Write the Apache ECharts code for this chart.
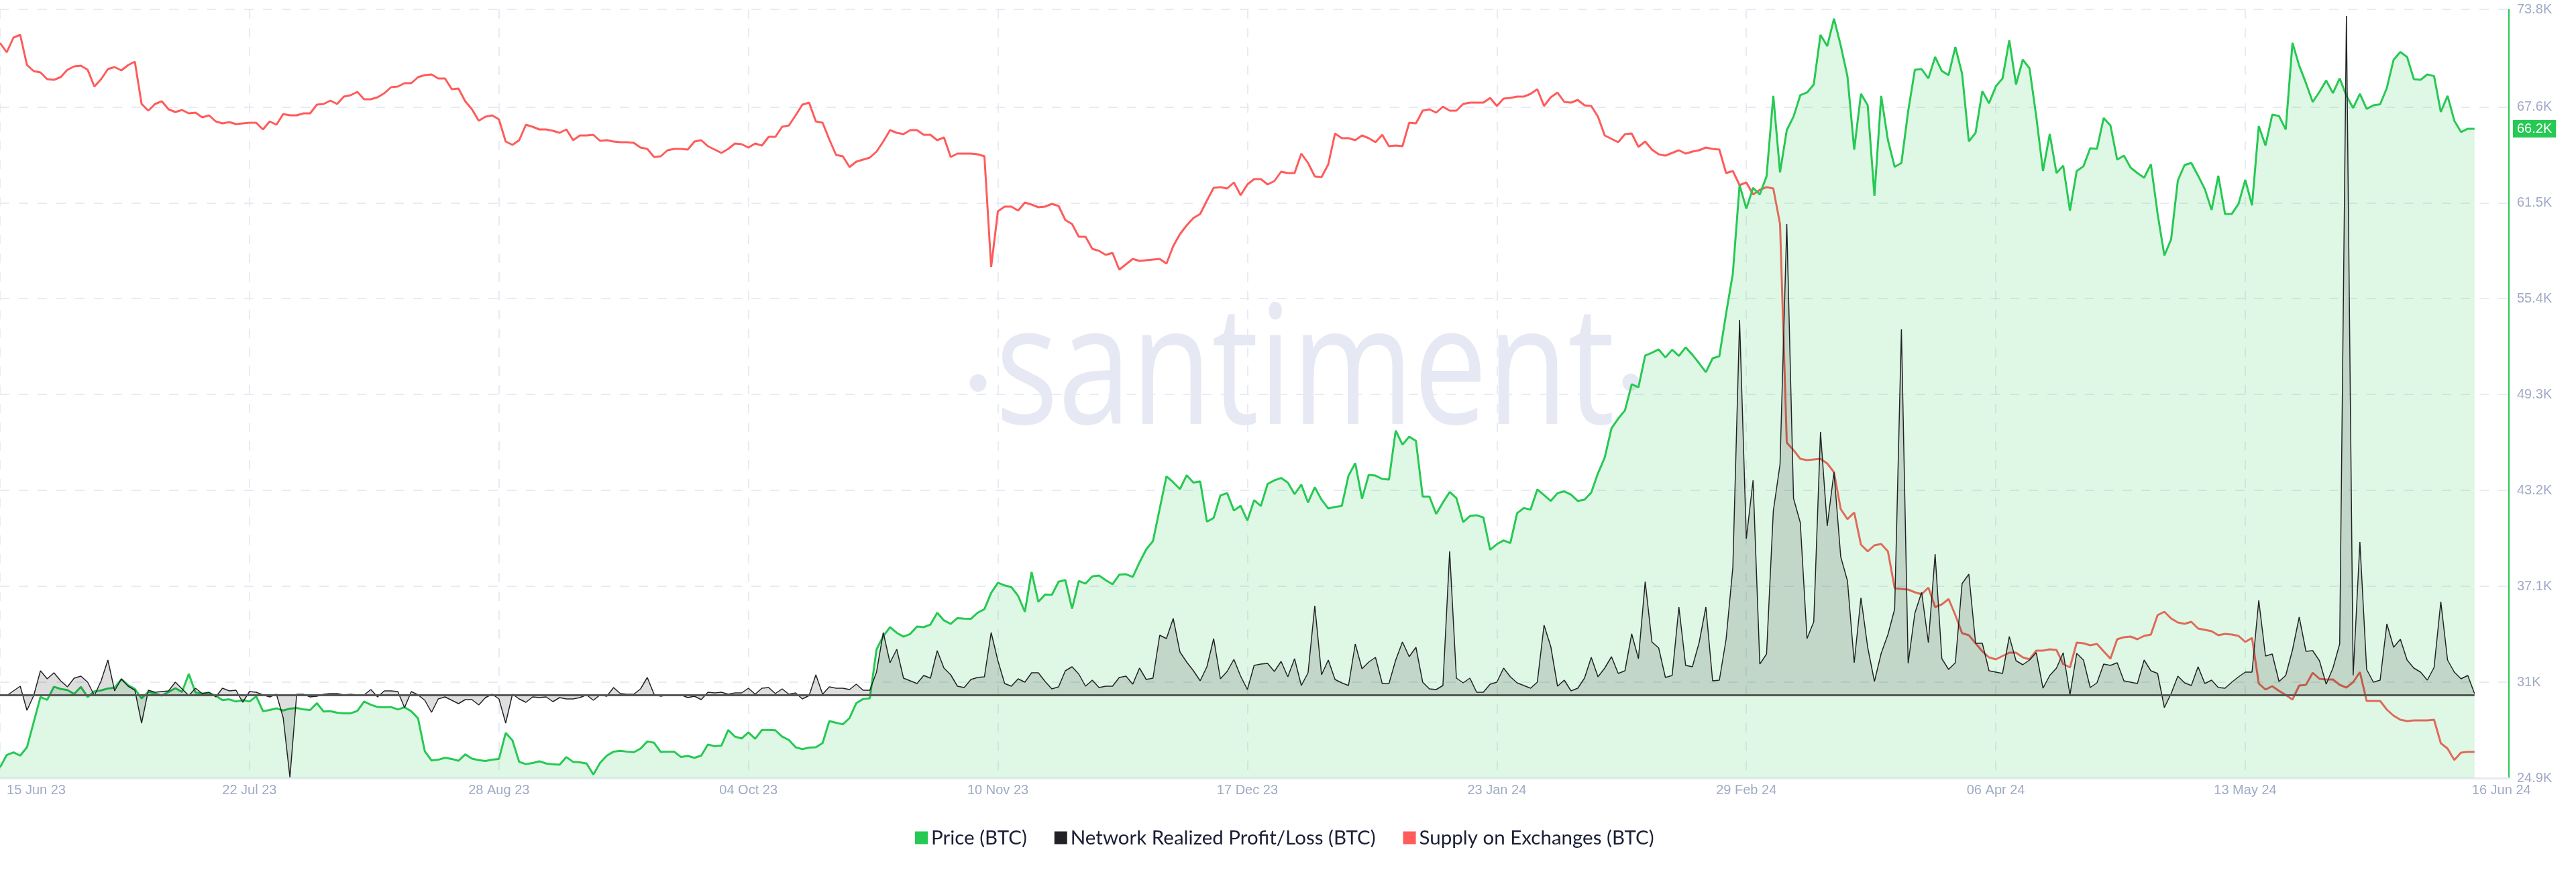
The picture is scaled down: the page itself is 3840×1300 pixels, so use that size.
<!DOCTYPE html>
<html>
<head>
<meta charset="utf-8">
<style>html,body{margin:0;padding:0;background:#fff}#c{width:3840px;height:1300px}</style>
<script src="https://cdn.jsdelivr.net/npm/echarts@6/dist/echarts.min.js"></script>
</head>
<body>
<div id="c"></div>
<script>
const startDate = '2023-06-15';
const endDate = '2024-06-16';
const xTickDates = ['2023-06-15','2023-07-22','2023-08-28','2023-10-04','2023-11-10','2023-12-17','2024-01-23','2024-02-29','2024-04-06','2024-05-13'];
const xTickLabels = ['15 Jun 23','22 Jul 23','28 Aug 23','04 Oct 23','10 Nov 23','17 Dec 23','23 Jan 24','29 Feb 24','06 Apr 24','13 May 24'];
const lastTickLabel = '16 Jun 24';
const priceTicks = [24.9,31,37.1,43.2,49.3,55.4,61.5,67.6,73.8];
const lastPrice = 66.2;
const seriesNames = ['Price (BTC)','Network Realized Profit/Loss (BTC)','Supply on Exchanges (BTC)'];

// Price in thousands of USD, one value per day
const price = [
25.58,26.37,26.54,26.33,26.86,28.46,30.06,29.88,30.71,30.57,30.50,30.25,30.70,30.06,30.42,30.48,30.60,30.65,31.19,30.81,
30.57,29.97,30.38,30.28,30.15,30.38,30.62,30.38,31.52,30.34,30.28,30.31,30.14,29.86,29.91,29.77,29.86,29.77,30.10,29.16,
29.23,29.34,29.20,29.32,29.36,29.27,29.23,29.67,29.13,29.16,29.06,29.02,29.02,29.17,29.77,29.57,29.42,29.40,29.42,29.27,
29.40,29.15,28.70,26.61,26.02,26.07,26.19,26.12,26.00,26.41,26.14,26.04,25.99,26.07,26.12,27.78,27.30,25.93,25.79,25.86,
25.97,25.83,25.77,25.75,26.24,25.93,25.90,25.83,25.12,25.87,26.33,26.58,26.64,26.58,26.54,26.78,27.23,27.15,26.56,26.58,
26.58,26.24,26.31,26.19,26.33,27.04,26.93,26.97,27.96,27.54,27.42,27.81,27.40,27.96,27.96,27.94,27.54,27.32,26.86,26.74,
26.84,26.86,27.13,28.53,28.42,28.32,28.72,29.67,29.93,29.98,
33.08,33.93,34.50,34.14,33.90,34.07,34.54,34.50,34.67,35.42,34.93,34.71,35.08,35.04,35.03,35.42,35.65,36.68,37.32,37.16,
37.05,36.49,35.47,38.01,36.11,36.58,36.56,37.39,37.50,35.68,37.44,37.27,37.73,37.79,37.49,37.23,37.84,37.87,37.70,38.62,
39.45,39.98,42.04,44.10,43.72,43.28,44.17,43.70,43.77,41.21,41.45,42.88,43.03,41.92,42.22,
41.28,42.58,42.21,43.61,43.84,43.99,43.70,42.96,43.57,42.43,43.40,42.61,42.05,42.15,42.21,44.14,44.93,42.67,44.19,44.14,
43.93,43.89,47.01,46.11,46.62,46.35,42.81,42.81,41.70,42.43,43.10,42.71,41.18,41.57,41.62,41.48,39.42,39.78,40.02,39.85,
41.75,42.08,41.98,43.26,42.90,42.53,43.03,43.14,42.93,42.53,42.61,43.07,44.29,45.29,47.15,
47.77,48.29,49.95,49.76,51.78,51.96,52.17,51.66,52.15,51.76,52.30,51.83,51.29,50.72,51.60,51.74,54.45,57.00,
62.62,61.13,62.45,62.03,63.18,68.30,63.43,66.12,66.98,68.34,68.51,69.02,72.18,71.46,73.21,71.50,69.54,64.88,68.43,67.70,
61.94,68.30,65.48,63.78,64.03,67.32,69.96,70.00,69.41,70.77,69.88,69.62,71.41,69.71,65.40,65.95,68.60,67.83,68.90,69.41,
71.84,69.02,70.60,70.05,66.98,63.52,65.87,63.39,63.86,61.00,63.52,63.82,64.97,64.93,66.89,66.42,64.24,64.50,63.73,63.39,
63.09,63.95,60.79,58.14,59.17,62.92,63.90,64.03,63.22,62.37,61.04,63.22,60.79,60.79,61.43,62.96,61.34,66.38,65.14,67.10,
67.02,66.16,71.67,70.22,69.11,67.91,68.55,69.28,68.47,69.41,68.30,67.53,68.43,67.47,67.70,67.76,68.81,70.60,71.09,70.77,
69.36,69.32,69.66,69.56,67.27,68.30,66.72,66.00,66.21,66.20];

// Network realized profit/loss, relative units (hidden axis)
const realizedPnl = [
0,-1,6,13,-23,-1,36,24,33,21,12,25,28,19,-1,21,52,6,24,13,
7,-42,7,4,5,6,19,9,-1,10,2,4,-3,10,6,7,-11,5,4,0,
-3,1,-34,-123,1,1,-3,-2,1,2,2,0,1,0,0,8,-3,6,6,5,
-19,5,0,-8,-26,-6,-3,-8,-13,-7,-7,-15,-4,1,-6,-42,1,-6,-11,-3,
-4,-3,-10,-4,-6,-6,-4,0,-8,0,-2,11,2,1,1,9,26,1,-2,0,
-1,0,-4,-2,-7,4,3,4,1,3,3,10,1,10,11,2,9,1,3,-6,
-1,30,1,12,10,10,8,16,7,7,
34,93,48,68,25,21,17,29,25,66,40,30,13,11,23,26,27,93,51,17,
13,24,19,33,33,20,9,12,36,42,31,13,22,11,13,13,26,28,16,40,
23,25,89,84,114,64,49,36,21,42,84,24,35,53,28,
8,44,46,47,35,50,27,54,14,33,133,30,52,23,18,14,76,39,49,56,
17,17,52,79,57,71,19,9,8,14,214,25,18,25,4,4,16,19,40,27,
18,14,10,19,104,72,13,22,6,10,25,56,27,40,57,
32,36,91,54,169,79,70,26,29,131,44,42,78,131,21,22,83,190,559,233,
320,46,61,274,344,702,293,257,84,109,392,252,332,206,170,48,145,71,20,62,
90,128,545,47,122,153,78,210,54,38,48,166,180,77,77,36,34,32,87,51,
45,52,63,10,29,40,63,0,62,52,11,18,46,44,48,21,19,17,52,36,
32,-19,2,28,18,14,42,17,22,11,10,19,27,34,34,141,58,61,20,29,
67,116,65,66,51,16,40,76,1012,29,228,38,19,22,106,71,83,52,40,34,
22,41,139,52,34,24,29,2];

// Supply on exchanges, relative units (hidden axis)
const supplyOnExchanges = [
1096,1082,1104,1108,1063,1054,1052,1042,1041,1045,1056,1061,1062,1056,1031,1042,1057,1060,1055,1063,
1068,1005,995,1005,1009,997,993,996,991,992,985,988,979,976,978,975,976,977,977,967,
979,974,990,988,988,991,991,1004,1005,1010,1005,1016,1018,1023,1012,1012,1015,1021,1030,1031,
1036,1036,1045,1048,1049,1043,1043,1027,1028,1009,997,980,986,988,982,949,944,951,974,971,
967,967,965,962,967,951,958,958,959,950,951,949,948,948,947,940,
938,926,927,936,938,938,937,949,951,942,937,932,938,946,945,940,946,943,956,956,
971,973,988,1004,1007,979,977,952,929,927,911,919,922,925,934,949,966,962,960,966,
966,959,959,951,955,926,931,931,931,930,927,762,845,852,852,846,858,855,851,852,
856,853,832,826,807,807,789,786,780,783,758,766,774,771,772,773,774,767,793,811,
824,835,841,861,880,881,879,888,869,885,893,893,885,890,904,902,902,931,917,897,
896,915,961,954,954,951,958,954,948,959,942,943,942,977,976,995,997,992,1001,995,
995,1005,1007,1007,1007,1014,1002,1013,1014,1016,1016,1020,1027,1002,1015,1022,1008,1007,1011,1003,
1002,986,958,953,
948,960,961,941,949,937,930,928,932,936,931,934,936,940,938,937,902,905,884,888,
870,877,881,879,826,500,489,476,474,475,476,469,456,401,386,396,348,338,347,349,
338,283,282,281,277,274,284,255,259,267,243,216,213,201,189,180,177,182,187,187,
180,177,190,190,192,191,170,165,202,201,198,200,189,178,207,210,211,207,212,214,
243,248,238,232,230,233,223,221,219,213,215,214,212,203,209,141,132,137,130,124,
117,138,139,157,148,147,147,139,135,143,158,115,115,115,102,93,87,85,86,86,
86,87,52,44,27,38,39,39];

const DAY = 864e5;
const t0 = Date.parse(startDate + 'T00:00:00Z');
const tEnd = Date.parse(endDate + 'T00:00:00Z');
const xMax = t0 + 372.1 * DAY;
const dates = price.map((_, i) => t0 + i * DAY);
const xTicks = xTickDates.map(d => Date.parse(d + 'T00:00:00Z'));

const C = { price:'#26c953', pnl:'#222226', supply:'#ff5b5b', grid:'#e8ebf5', tick:'#9faac4', text:'#1a1f36', wm:'#e6e9f3' };
const zip = a => a.map((v, i) => [dates[i], v]);
const dashed = { show:true, lineStyle:{ color:C.grid, width:2, type:[14,14] } };
const tickFont = { fontFamily:'Liberation Sans', fontSize:20, color:C.tick };

const chart = echarts.init(document.getElementById('c'), null, { renderer:'canvas' });
chart.setOption({
  animation:false,
  backgroundColor:'#fff',
  grid:{ left:0, right:100, top:14, bottom:140, containLabel:false },
  legend:{
    data:seriesNames, left:1359, top:1229, icon:'rect', itemWidth:19, itemHeight:19, itemGap:41,
    textStyle:{ fontFamily:'Lato', fontSize:29.5, color:C.text },
    selectedMode:false
  },
  xAxis:[{
    type:'value', min:t0, max:xMax, position:'bottom', scale:true,
    axisLine:{ show:true, onZero:false, lineStyle:{ color:'#e8eaf2', width:3 } },
    axisTick:{ show:false, customValues:xTicks },
    splitLine:dashed,
    axisLabel:{
      ...tickFont, margin:8, customValues:xTicks, hideOverlap:false,
      formatter:v => { const i = xTicks.indexOf(v); return i === 0 ? '{first|' + xTickLabels[0] + '}' : xTickLabels[i]; },
      rich:{ first:{ ...tickFont, padding:[0,0,0,108] } }
    }
  },{
    type:'value', min:t0, max:xMax, position:'bottom', scale:true,
    axisLine:{ show:false, onZero:false }, axisTick:{ show:false, customValues:[tEnd] }, splitLine:{ show:false },
    axisLabel:{ ...tickFont, margin:8, customValues:[tEnd], padding:[0,0,0,80], formatter:() => lastTickLabel }
  }],
  yAxis:[{
    type:'value', position:'right', min:24.9, max:73.8, scale:true,
    axisLine:{ show:true, onZero:false, lineStyle:{ color:C.price, width:2 } },
    axisTick:{ show:false, customValues:priceTicks },
    splitLine:dashed,
    axisLabel:{ ...tickFont, margin:12, customValues:priceTicks, formatter:v => v + 'K' }
  },{
    type:'value', show:false, min:-124, max:1022, splitLine:{ show:false }
  },{
    type:'value', show:false, min:0, max:1146, splitLine:{ show:false }
  },{
    type:'value', position:'right', min:24.9, max:73.8, scale:true,
    axisLine:{ show:false, onZero:false }, axisTick:{ show:false, customValues:[lastPrice] }, splitLine:{ show:false },
    axisLabel:{
      fontFamily:'Liberation Sans', fontSize:20, color:'#fff', backgroundColor:C.price, padding:[3,6,3,6],
      margin:6, customValues:[lastPrice], formatter:v => v + 'K'
    }
  }],
  graphic:[
    { type:'text', z:0, silent:true, x:1484, y:437, scaleX:0.79,
      style:{ text:'santiment', font:'248px "Open Sans"', fill:C.wm } },
    { type:'ellipse', z:0, silent:true, shape:{ cx:1458, cy:571, rx:12.5, ry:13 }, style:{ fill:C.wm } },
    { type:'ellipse', z:0, silent:true, shape:{ cx:2431, cy:570, rx:12.5, ry:13 }, style:{ fill:C.wm } }
  ],
  series:[{
    name:seriesNames[2], type:'line', xAxisIndex:0, yAxisIndex:2, z:1, data:zip(supplyOnExchanges),
    showSymbol:false, symbol:'none', lineStyle:{ color:C.supply, width:3 }, itemStyle:{ color:C.supply }
  },{
    name:seriesNames[0], type:'line', xAxisIndex:0, yAxisIndex:0, z:2, data:zip(price),
    showSymbol:false, symbol:'none', lineStyle:{ color:C.price, width:3 }, itemStyle:{ color:C.price },
    areaStyle:{ color:'rgba(38,201,83,0.15)', opacity:1, origin:'start' }
  },{
    name:seriesNames[1], type:'line', xAxisIndex:0, yAxisIndex:1, z:3, data:zip(realizedPnl),
    showSymbol:false, symbol:'none', lineStyle:{ color:C.pnl, width:1.5 }, itemStyle:{ color:C.pnl },
    areaStyle:{ color:'rgba(0,0,0,0.13)', opacity:1, origin:0 },
    markLine:{
      silent:true, symbol:'none', label:{ show:false }, animation:false,
      lineStyle:{ color:'#555', width:3, type:'solid' },
      data:[[{ coord:[dates[0], 0] }, { coord:[dates[dates.length - 1], 0] }]]
    }
  }]
});
</script>
</body>
</html>
